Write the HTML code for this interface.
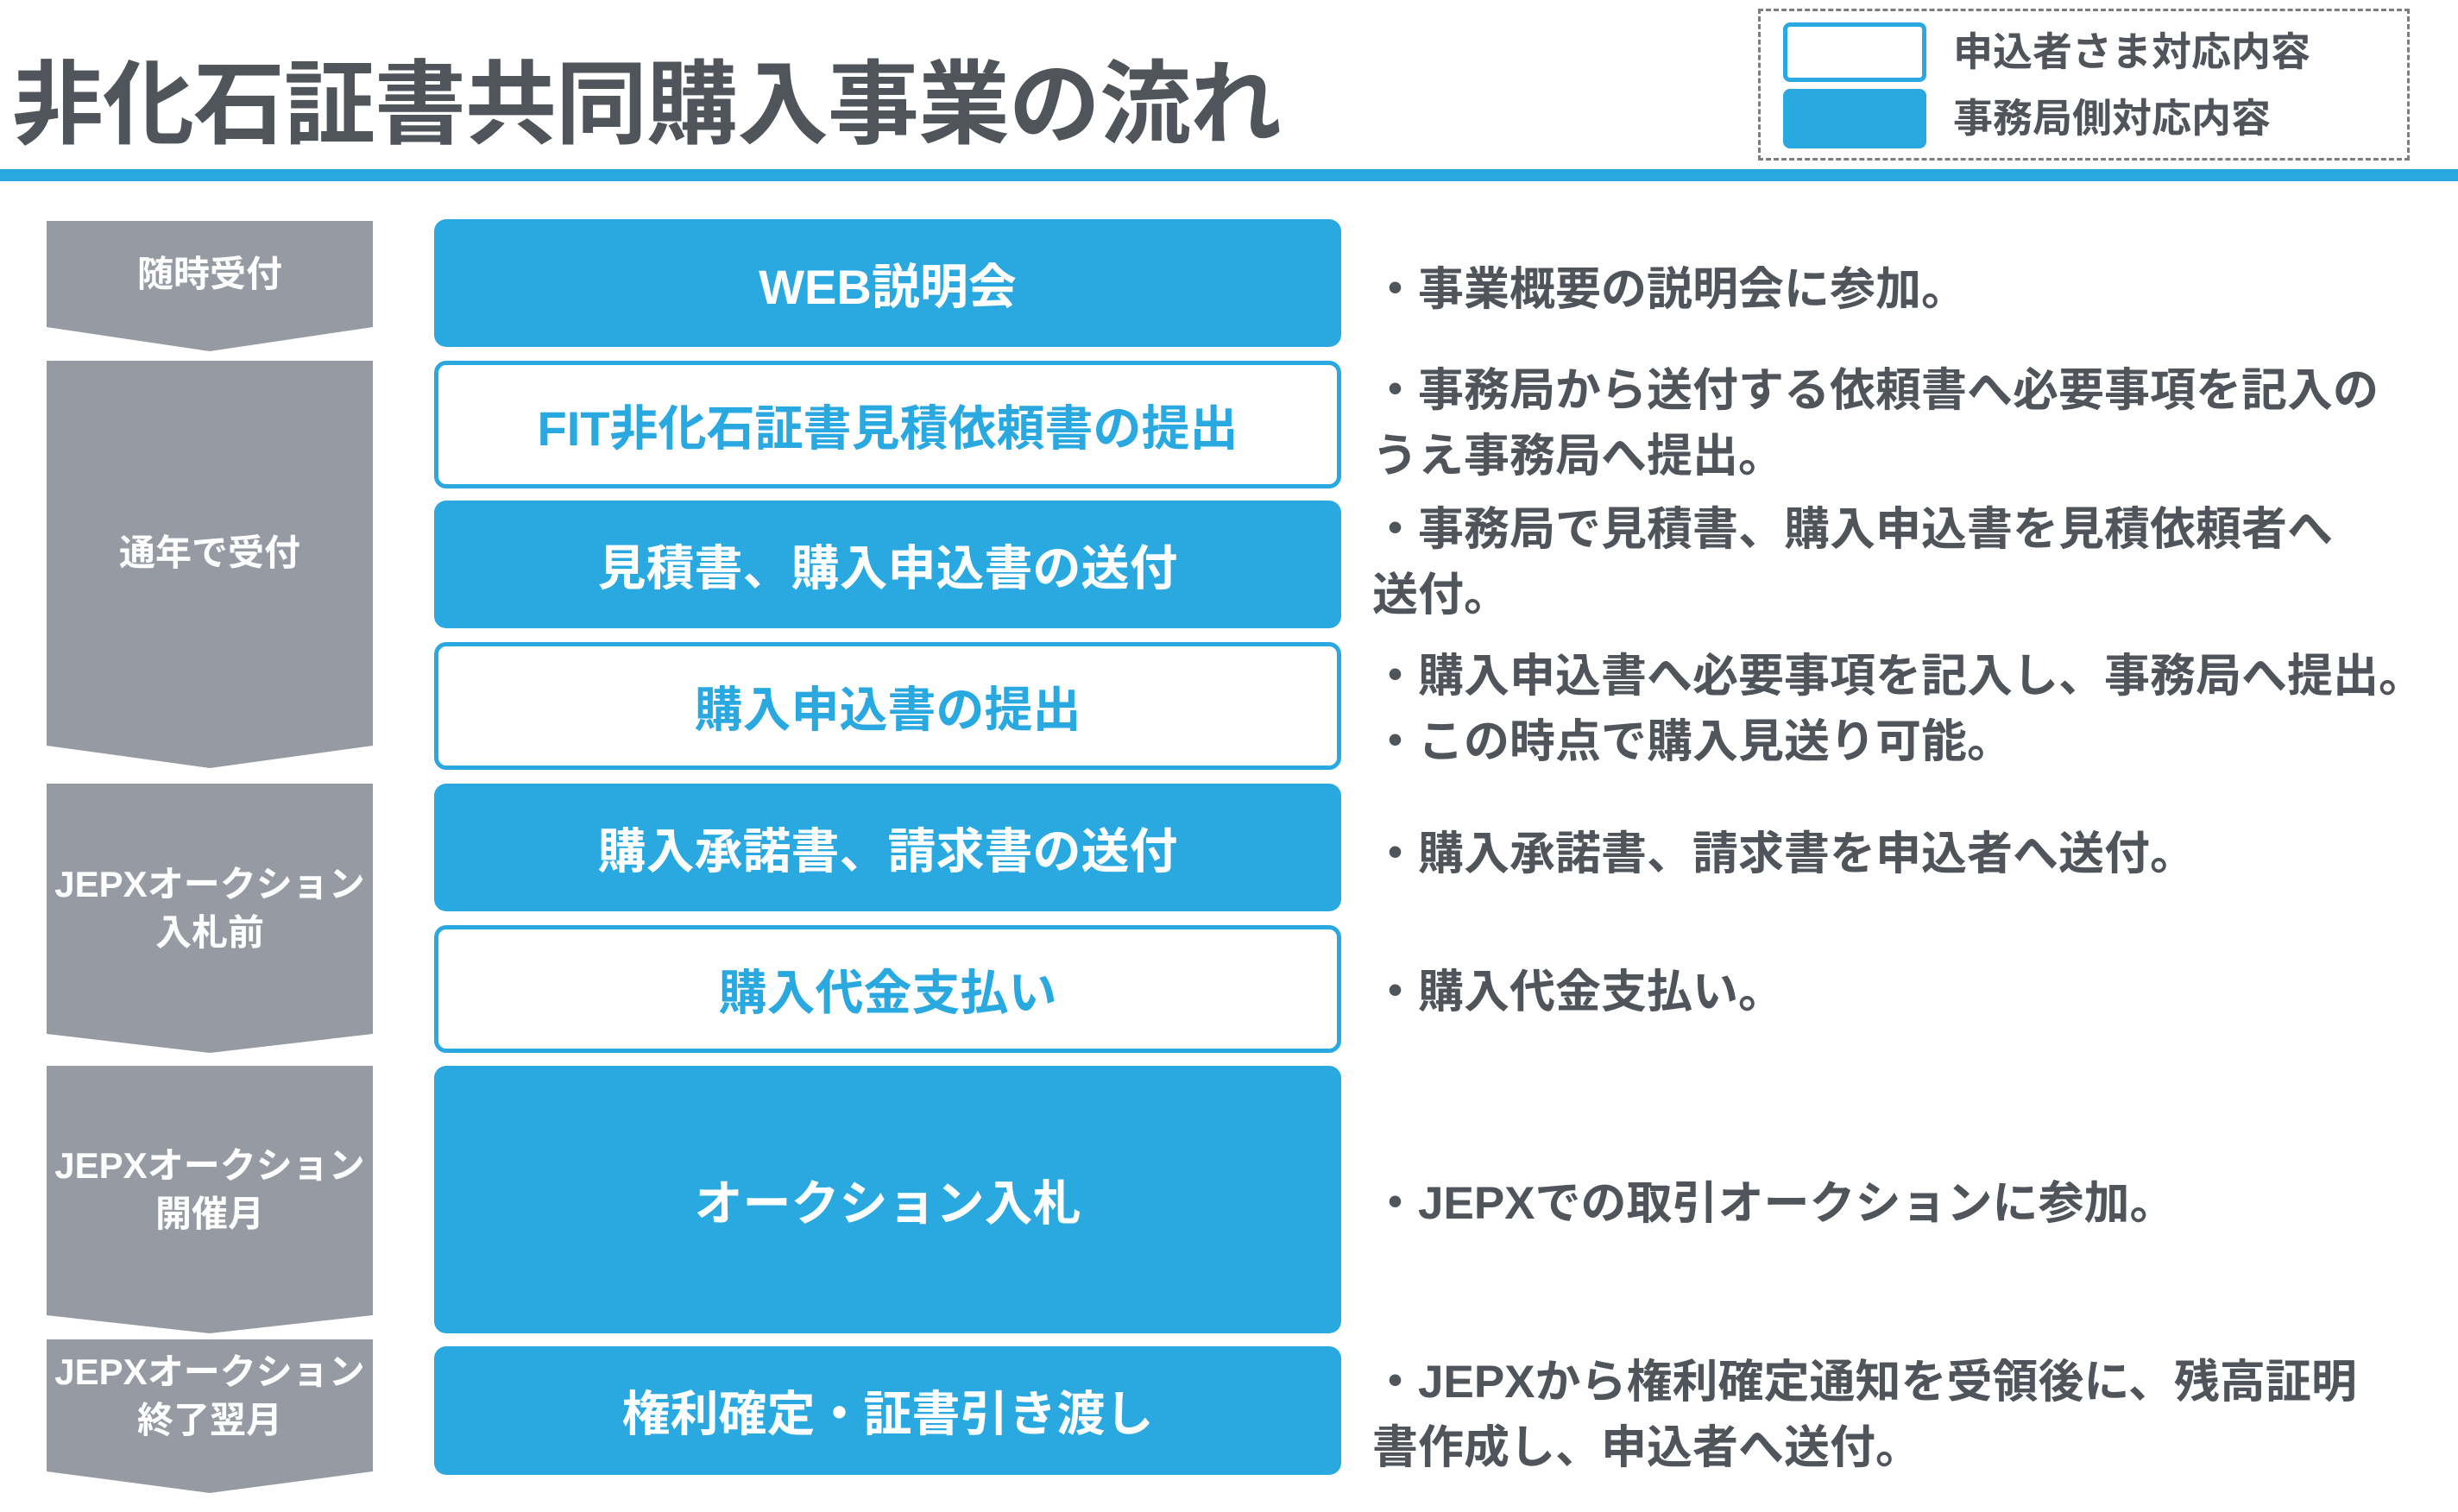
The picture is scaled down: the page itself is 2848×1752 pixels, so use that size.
<!DOCTYPE html>
<html><head><meta charset="utf-8"><style>
body{margin:0;width:2848px;height:1730px;background:#fff;position:relative;overflow:hidden;font-family:"Liberation Sans","Noto Sans CJK JP",sans-serif;font-weight:bold}
div{position:absolute;box-sizing:border-box}
.t{white-space:nowrap}
.title{left:14px;top:62px;font-size:106px;line-height:120px;color:#50555c;letter-spacing:-1px}
.bar{left:0;top:196px;width:2848px;height:14px;background:#29a9e0}
.leg{left:2037px;top:10px;width:755px;height:176px;border:3px dashed #7a7d82}
.lb{left:2066px;width:166px;height:69px;border-radius:8px}
.lt{left:2263px;font-size:46px;line-height:50px;color:#50555c}
.box{left:503px;width:1051px;border-radius:14px;display:flex;align-items:center;justify-content:center;font-size:56px;color:#fff;background:#29a9e0;white-space:nowrap}
.box.o{background:#fff;border:5px solid #29a9e0;color:#29a9e0}
.gr{left:54px;width:378px;background:#969aa2;color:#fff;font-size:42px;line-height:56px;text-align:center;display:flex;align-items:center;justify-content:center}
.r{left:1590px;font-size:53px;line-height:76px;color:#50555c;white-space:nowrap}
</style></head><body>
<div class="t title">非化石証書共同購入事業の流れ</div>
<div class="bar"></div>
<div class="leg"></div>
<div class="lb" style="top:26px;border:5px solid #29a9e0;background:#fff"></div>
<div class="lb" style="top:103px;background:#29a9e0"></div>
<div class="t lt" style="top:35px">申込者さま対応内容</div>
<div class="t lt" style="top:112px">事務局側対応内容</div>

<div class="gr" style="top:256px;height:151px;clip-path:polygon(0 0,100% 0,100% 123px,50% 151px,0 123px);padding-bottom:28px">随時受付</div>
<div class="gr" style="top:418px;height:472px;clip-path:polygon(0 0,100% 0,100% 446px,50% 472px,0 446px);padding-bottom:26px">通年で受付</div>
<div class="gr" style="top:908px;height:312px;clip-path:polygon(0 0,100% 0,100% 290px,50% 312px,0 290px);padding-bottom:22px">JEPXオークション<br>入札前</div>
<div class="gr" style="top:1235px;height:310px;clip-path:polygon(0 0,100% 0,100% 289px,50% 310px,0 289px);padding-bottom:22px">JEPXオークション<br>開催月</div>
<div class="gr" style="top:1552px;height:200px;clip-path:polygon(0 0,100% 0,100% 153px,50% 178px,0 153px);padding-bottom:68px">JEPXオークション<br>終了翌月</div>

<div class="box" style="top:254px;height:148px">WEB説明会</div>
<div class="box o" style="top:418px;height:148px">FIT非化石証書見積依頼書の提出</div>
<div class="box" style="top:580px;height:148px">見積書、購入申込書の送付</div>
<div class="box o" style="top:744px;height:148px">購入申込書の提出</div>
<div class="box" style="top:908px;height:148px">購入承諾書、請求書の送付</div>
<div class="box o" style="top:1072px;height:148px">購入代金支払い</div>
<div class="box" style="top:1235px;height:310px">オークション入札</div>
<div class="box" style="top:1560px;height:149px">権利確定・証書引き渡し</div>

<div class="r" style="top:298px">・事業概要の説明会に参加。</div>
<div class="r" style="top:415px">・事務局から送付する依頼書へ必要事項を記入の<br>うえ事務局へ提出。</div>
<div class="r" style="top:576px">・事務局で見積書、購入申込書を見積依頼者へ<br>送付。</div>
<div class="r" style="top:746px">・購入申込書へ必要事項を記入し、事務局へ提出。<br>・この時点で購入見送り可能。</div>
<div class="r" style="top:952px">・購入承諾書、請求書を申込者へ送付。</div>
<div class="r" style="top:1112px">・購入代金支払い。</div>
<div class="r" style="top:1357px">・JEPXでの取引オークションに参加。</div>
<div class="r" style="top:1564px">・JEPXから権利確定通知を受領後に、残高証明<br>書作成し、申込者へ送付。</div>
</body></html>
